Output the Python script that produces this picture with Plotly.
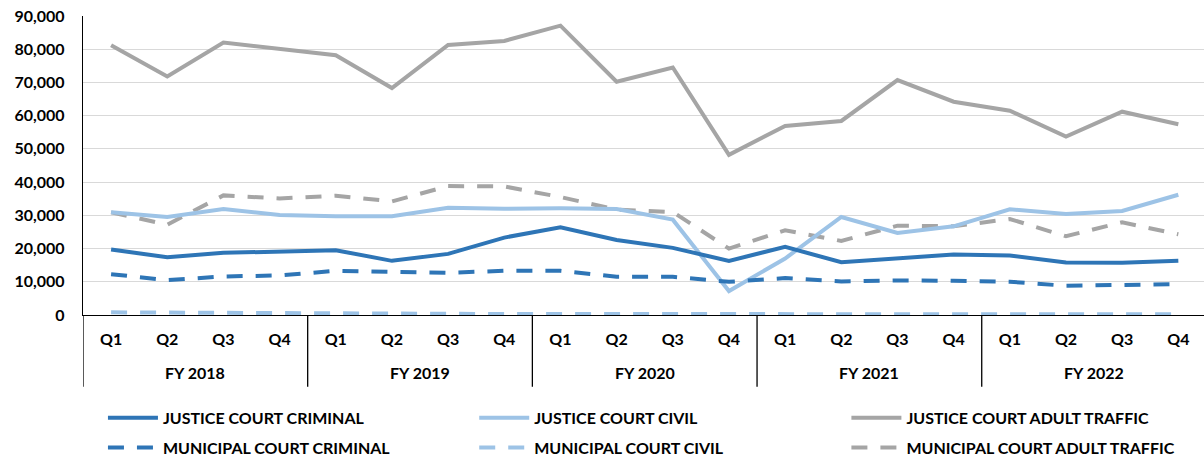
import plotly.graph_objects as go

# Fiscal-year / quarter categories
fiscal_years = ["FY 2018", "FY 2019", "FY 2020", "FY 2021", "FY 2022"]
quarter_names = ["Q1", "Q2", "Q3", "Q4"]
periods = [f"{fy} {q}" for fy in fiscal_years for q in quarter_names]
quarters = quarter_names * len(fiscal_years)

# Filings per quarter
jc_criminal = [19700, 17400, 18700, 19000, 19500, 16300, 18400, 23300, 26400, 22600,
               20200, 16300, 20500, 15900, 17200, 18200, 17900, 15800, 15700, 16300]
jc_civil = [30900, 29500, 31900, 30100, 29700, 29700, 32300, 32000, 32100, 31900,
            28700, 7200, 17000, 29500, 24700, 26700, 31800, 30400, 31300, 36200]
jc_traffic = [81200, 71800, 82000, 80200, 78200, 68300, 81300, 82500, 87100, 70200,
              74500, 48200, 56900, 58400, 70700, 64200, 61500, 53700, 61200, 57400]
mc_criminal = [12300, 10500, 11600, 11900, 13300, 12900, 12700, 13300, 13300, 11500,
               11500, 10000, 11100, 10100, 10400, 10300, 10000, 8800, 8900, 9300]
mc_civil = [800, 700, 500, 400, 300, 300, 300, 300, 300, 300,
            200, 200, 200, 200, 200, 200, 300, 300, 300, 200]
mc_traffic = [30900, 27200, 36000, 35100, 35900, 34200, 38800, 38700, 35500, 31700,
              31000, 20000, 25500, 22300, 26900, 26700, 28900, 23700, 27900, 24300]

DARK = "#2E75B6"
LIGHT = "#9DC3E6"
GRAY = "#A5A5A5"
DASH = "16px,13px"
FONT = "Lato"

series = [
    ("JUSTICE COURT CRIMINAL", jc_criminal, DARK, "solid", "legend"),
    ("MUNICIPAL COURT CRIMINAL", mc_criminal, DARK, DASH, "legend"),
    ("JUSTICE COURT CIVIL", jc_civil, LIGHT, "solid", "legend2"),
    ("MUNICIPAL COURT CIVIL", mc_civil, LIGHT, DASH, "legend2"),
    ("JUSTICE COURT ADULT TRAFFIC", jc_traffic, GRAY, "solid", "legend3"),
    ("MUNICIPAL COURT ADULT TRAFFIC", mc_traffic, GRAY, DASH, "legend3"),
]

fig = go.Figure()
# traffic lines drawn first so the smaller series sit on top
draw_order = [4, 5, 2, 0, 1, 3]
for i in draw_order:
    name, vals, color, dash, leg = series[i]
    fig.add_trace(go.Scatter(
        x=periods, y=vals, name=name, mode="lines",
        line=dict(color=color, width=4, dash=dash),
        legend=leg, legendgroup=name, legendrank=i,
        hoverinfo="skip",
    ))

legend_common = dict(
    orientation="v", xanchor="left", yanchor="top",
    yref="container", y=0.1285,
    font=dict(family=FONT, size=16, color="#000000", weight="bold"),
    bgcolor="rgba(0,0,0,0)", tracegroupgap=6, itemwidth=50,
    traceorder="grouped",
)

# fiscal-year group labels and the dividers between groups
year_annotations = []
divider_shapes = []
n_q = len(quarter_names)
for k, fy in enumerate(fiscal_years):
    year_annotations.append(dict(
        x=k * n_q + (n_q - 1) / 2, xref="x", y=-0.193, yref="paper",
        text=fy, showarrow=False, yanchor="middle",
        font=dict(family=FONT, size=16, color="#000000", weight="bold"),
    ))
    divider_shapes.append(dict(
        type="line", xref="x", yref="paper",
        x0=k * n_q - 0.5, x1=k * n_q - 0.5, y0=0, y1=-0.24,
        line=dict(color="#000000", width=1.3),
    ))

fig.update_layout(
    width=1204, height=460,
    margin=dict(l=83, r=0, t=16, b=145),
    paper_bgcolor="white", plot_bgcolor="white",
    font=dict(family=FONT, size=15, color="#000000"),
    showlegend=True,
    legend=dict(x=0.0178, **legend_common),
    legend2=dict(x=0.349, **legend_common),
    legend3=dict(x=0.681, **legend_common),
    annotations=year_annotations,
    shapes=divider_shapes,
    xaxis=dict(
        type="category",
        range=[-0.5, 19.457],
        tickmode="array", tickvals=periods, ticktext=quarters,
        showline=True, linecolor="#000000", linewidth=1.3,
        showgrid=False, ticks="", ticklabelstandoff=10,
        tickfont=dict(family=FONT, size=16, color="#000000", weight="bold"),
    ),
    yaxis=dict(
        range=[0, 90000], dtick=10000, tickformat=",",
        showline=True, linecolor="#000000", linewidth=1.3,
        showgrid=True, gridcolor="#D9D9D9", gridwidth=1.3,
        zeroline=False, ticks="", ticklabelstandoff=14,
        tickfont=dict(family=FONT, size=16, color="#000000", weight="bold"),
    ),
)

fig.write_html("out.html")
